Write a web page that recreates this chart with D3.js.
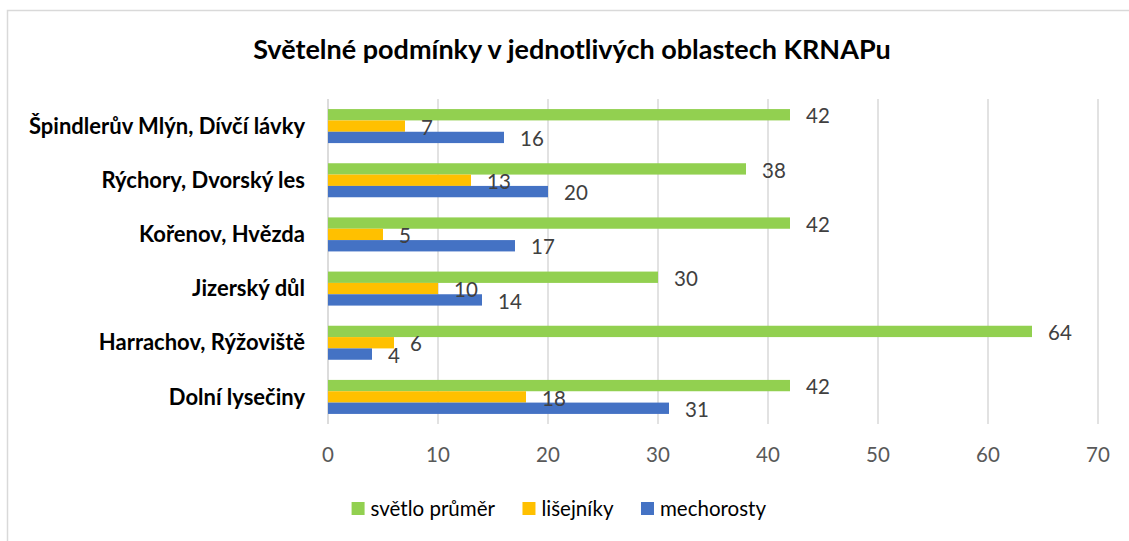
<!DOCTYPE html>
<html>
<head>
<meta charset="utf-8">
<script type="text/javascript" src="https://d3js.org/d3.v7.min.js"></script>
<style>
  body { margin: 0; background: #fff; }
  svg { font-family: Lato, "Open Sans", sans-serif; }
</style>
</head>
<body>
<svg width="1129" height="541"></svg>
<script type="text/javascript">
// data (top to bottom)
var categories = ["Špindlerův Mlýn, Dívčí lávky", "Rýchory, Dvorský les", "Kořenov, Hvězda",
                  "Jizerský důl", "Harrachov, Rýžoviště", "Dolní lysečiny"];
var seriesNames = ["světlo průměr", "lišejníky", "mechorosty"];
var svetlo = [42, 38, 42, 30, 64, 42];
var lisejniky = [7, 13, 5, 10, 6, 18];
var mechorosty = [16, 20, 17, 14, 4, 31];
var xTicks = [0, 10, 20, 30, 40, 50, 60, 70];
var colors = ["#92d050", "#ffc000", "#4472c4"];
var title = "Světelné podmínky v jednotlivých oblastech KRNAPu";

var svg = d3.select("svg");

// chart frame
svg.append("rect")
    .attr("x", 7.5).attr("y", 10.5)
    .attr("width", 1200).attr("height", 600)
    .style("fill", "#fff").style("stroke", "#d9d9d9").style("stroke-width", 1.5);

svg.append("text")
    .attr("x", 572).attr("y", 59)
    .attr("text-anchor", "middle")
    .style("font-size", "27px").style("font-weight", "bold").style("fill", "#000")
    .text(title);

var x = d3.scaleLinear().domain([0, 70]).range([328, 1098]);
var y = d3.scaleBand().domain(categories).range([99, 424]).paddingInner(0.372).paddingOuter(0.186);
var ySub = d3.scaleBand().domain(seriesNames).range([0, y.bandwidth()]);

// gridlines
svg.append("g").selectAll("line")
    .data(xTicks)
    .enter()
    .append("line")
    .attr("x1", function(d) { return x(d); })
    .attr("x2", function(d) { return x(d); })
    .attr("y1", 99).attr("y2", 424)
    .style("stroke", function(d) { return d == 0 ? "#d0d0d0" : "#d9d9d9"; })
    .style("stroke-width", 1.5);

// x tick labels
svg.append("g").selectAll("text")
    .data(xTicks)
    .enter()
    .append("text")
    .attr("x", function(d) { return x(d); })
    .attr("y", 462)
    .attr("text-anchor", "middle")
    .style("font-size", "20.5px").style("fill", "#595959")
    .text(function(d) { return d; });

// category labels
svg.append("g").selectAll("text")
    .data(categories)
    .enter()
    .append("text")
    .attr("x", 305)
    .attr("y", function(d) { return y(d) + y.bandwidth() / 2; })
    .attr("dy", "0.35em")
    .attr("text-anchor", "end")
    .style("font-size", "22px").style("font-weight", "bold").style("fill", "#000")
    .text(function(d) { return d; });

// bars + value labels
var allSeries = [svetlo, lisejniky, mechorosty];
var rows = [];
allSeries.forEach(function(vals, s) {
    vals.forEach(function(v, i) {
        rows.push({cat: categories[i], series: seriesNames[s], value: v, color: colors[s]});
    });
});

svg.append("g").selectAll("rect")
    .data(rows)
    .enter()
    .append("rect")
    .attr("x", x(0))
    .attr("y", function(d) { return y(d.cat) + ySub(d.series); })
    .attr("width", function(d) { return x(d.value) - x(0); })
    .attr("height", ySub.bandwidth())
    .style("fill", function(d) { return d.color; });

svg.append("g").selectAll("text")
    .data(rows)
    .enter()
    .append("text")
    .attr("x", function(d) { return x(d.value) + 16; })
    .attr("y", function(d) { return y(d.cat) + ySub(d.series) + ySub.bandwidth() / 2 + 1.5; })
    .attr("dy", "0.35em")
    .style("font-size", "20.5px").style("fill", "#404040")
    .text(function(d) { return d.value; });

// legend
var legend = svg.append("g");
var items = legend.selectAll("g")
    .data(seriesNames)
    .enter()
    .append("g");
items.append("rect")
    .attr("width", 13).attr("height", 13)
    .attr("y", 502)
    .style("fill", function(d, i) { return colors[i]; });
items.append("text")
    .attr("x", 19).attr("y", 508.5)
    .attr("dy", "0.35em")
    .style("font-size", "20.5px").style("fill", "#000")
    .text(function(d) { return d; });
// lay out items in a centred row
var pos = 0, widths = [];
items.each(function() { widths.push(this.getBBox().width); });
var gap = 27;
var total = d3.sum(widths) + gap * (widths.length - 1);
var start = 559 - total / 2;
items.attr("transform", function(d, i) {
    var t = "translate(" + (start + pos) + ",0)";
    pos += widths[i] + gap;
    return t;
});
</script>
</body>
</html>
